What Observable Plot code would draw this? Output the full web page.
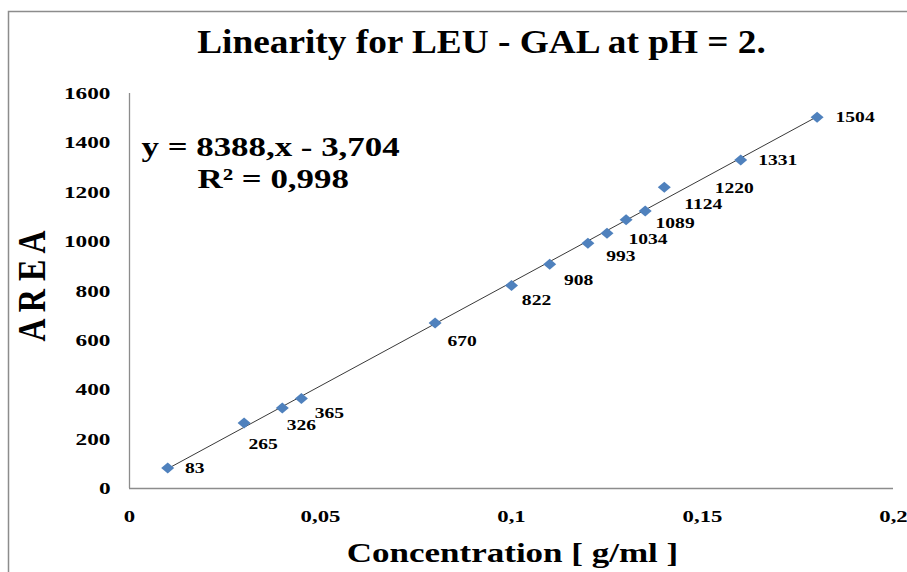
<!DOCTYPE html>
<html>
<head>
<meta charset="utf-8">
<script src="https://cdn.jsdelivr.net/npm/d3@7"></script>
<script src="https://cdn.jsdelivr.net/npm/@observablehq/plot@0.6"></script>
<style>
  html, body { margin: 0; padding: 0; background: #fff; }
  #chart { position: relative; width: 907px; height: 572px; overflow: hidden; }
  svg text { font-family: "Liberation Serif", "Times New Roman", serif; }
</style>
</head>
<body>
<div id="chart"></div>
<script>
// ---- data ----
const concentration = [0.01, 0.03, 0.04, 0.045, 0.08, 0.10, 0.11, 0.12, 0.125, 0.13, 0.135, 0.14, 0.16, 0.18];
const area          = [83, 265, 326, 365, 670, 822, 908, 993, 1034, 1089, 1124, 1220, 1331, 1504];
const xTicks = [0, 0.05, 0.1, 0.15, 0.2];
const yTicks = [0, 200, 400, 600, 800, 1000, 1200, 1400, 1600];
const titleText = "Linearity for LEU - GAL at pH = 2.";
const xLabel = "Concentration [ g/ml ]";
const yLabel = "A R E A";
const equationText = "y = 8388,x - 3,704";
const r2Text = "R² = 0,998";
// label offsets (px) of each data label from its marker, as placed in the original
const labelOffsets = [[27,0],[19,21],[19,17],[28,15],[27,18],[25,14],[29,16],[33,13],[41,6],[49,3],[58,-7],[70,1],[37,0],[38,0]];

const data = concentration.map((c, i) => ({c, a: area[i], i}));
const comma = d => String(d).replace(".", ",");

const diamond = {
  draw(ctx) {
    ctx.moveTo(0, -5.5); ctx.lineTo(6.5, 0); ctx.lineTo(0, 5.5); ctx.lineTo(-6.5, 0); ctx.closePath();
  }
};

const labelMarks = data.map((d, k) => Plot.text([d], {
  x: "c", y: "a", text: e => String(e.a),
  dx: labelOffsets[k][0], dy: labelOffsets[k][1],
  fontSize: 15.5, fontWeight: "bold", fill: "#000"
}));

const chart = Plot.plot({
  width: 907,
  height: 572,
  marginLeft: 129,
  marginRight: 14,
  marginTop: 93,
  marginBottom: 84,
  x: {domain: [0, 0.2], axis: null},
  y: {domain: [0, 1600], axis: null},
  style: {fontFamily: "Liberation Serif, Times New Roman, serif", background: "#fff", overflow: "visible"},
  marks: [
    Plot.axisX({ticks: xTicks, tickSize: 0, tickPadding: 21, tickFormat: comma, fontSize: 17.5, fontWeight: "bold", fill: "#000", label: null}),
    Plot.axisY({ticks: yTicks, tickSize: 0, tickPadding: 19, tickFormat: d => String(d), fontSize: 17.5, fontWeight: "bold", fill: "#000", label: null}),
    Plot.ruleX([0], {stroke: "#8c8c8c", strokeWidth: 1.3}),
    Plot.ruleY([0], {stroke: "#8c8c8c", strokeWidth: 1.3}),
    Plot.linearRegressionY(data, {x: "c", y: "a", ci: 0, stroke: "#222", strokeWidth: 0.9}),
    Plot.dot(data, {x: "c", y: "a", symbol: diamond, fill: "#4f81bd", stroke: "none", r: 5}),
    ...labelMarks,
    Plot.text([titleText], {frameAnchor: "top", dx: -30, dy: -51, fontSize: 33, fontWeight: "bold", fill: "#000", lineAnchor: "middle"}),
    Plot.text([equationText], {frameAnchor: "top-left", dx: 12, dy: 54, fontSize: 28, fontWeight: "bold", fill: "#000", textAnchor: "start", lineAnchor: "middle"}),
    Plot.text([r2Text], {frameAnchor: "top-left", dx: 68, dy: 86, fontSize: 28, fontWeight: "bold", fill: "#000", textAnchor: "start", lineAnchor: "middle"}),
    Plot.text([xLabel], {frameAnchor: "bottom", dx: 1, dy: 65, fontSize: 28, fontWeight: "bold", fill: "#000", lineAnchor: "middle"}),
    Plot.text([yLabel], {frameAnchor: "left", dx: -97, dy: -5, rotate: -90, fontSize: 40, fontWeight: "bold", fill: "#000", textAnchor: "middle", lineAnchor: "middle"})
  ]
});

document.getElementById("chart").appendChild(chart);

// outer chart-area border (left & top edges visible in the crop)
d3.select(chart).insert("path", ":first-child")
  .attr("d", "M8.5,572V11.5H907")
  .attr("fill", "none").attr("stroke", "#8c8c8c").attr("stroke-width", 1.5);

// the original is rendered horizontally stretched: widen glyphs to match
const areaLabels = new Set(area.map(String));
const yTickLabels = new Set(yTicks.map(String));
const xTickLabels = new Set(xTicks.map(comma));
function stretch(el, f) {
  const L = el.getComputedTextLength();
  el.setAttribute("textLength", (L * f).toFixed(2));
  el.setAttribute("lengthAdjust", "spacingAndGlyphs");
}
d3.select(chart).selectAll("text").each(function() {
  const t = this.textContent;
  let f = null;
  if (t === titleText) f = 1.13;
  else if (t === equationText || t === r2Text) f = 1.245;
  else if (t === xLabel) f = 1.25;
  else if (t === yLabel) f = 0.8;
  else if (this.closest('g[aria-label^="y-axis"]') && yTickLabels.has(t)) f = 1.33;
  else if (this.closest('g[aria-label^="x-axis"]') && xTickLabels.has(t)) f = 1.3;
  else if (areaLabels.has(t)) f = 1.26;
  if (f) stretch(this, f);
});
</script>
</body>
</html>
